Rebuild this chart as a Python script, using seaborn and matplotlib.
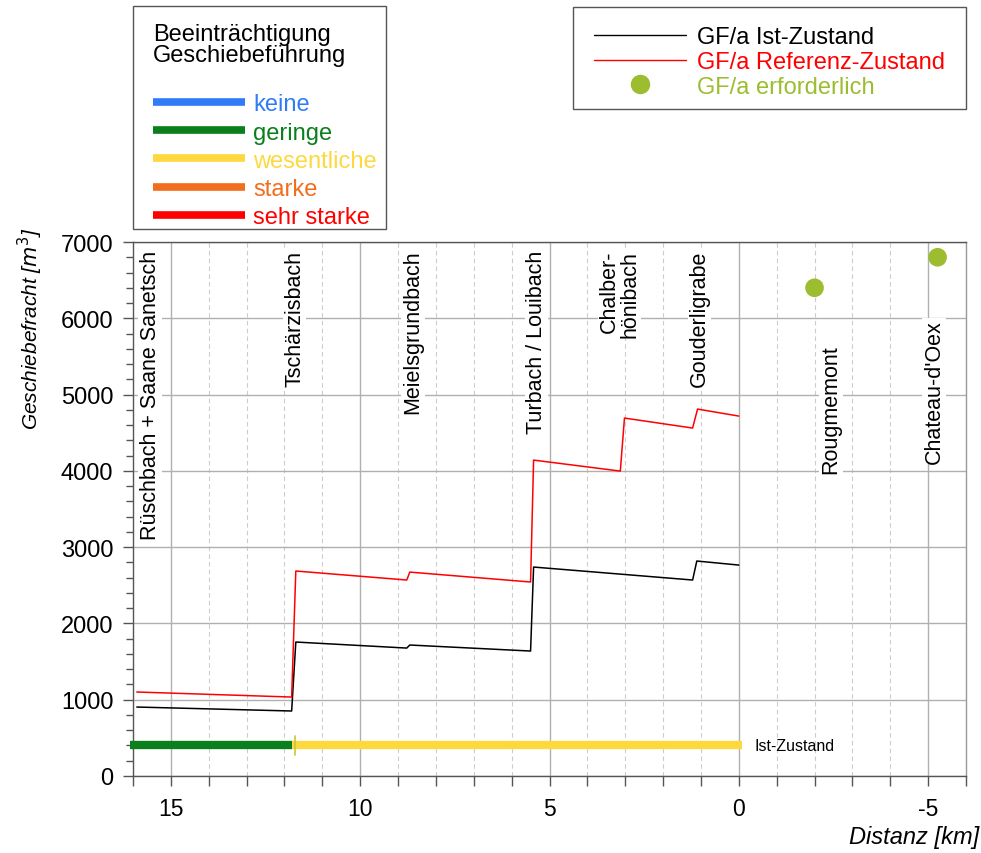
import numpy as np
import pandas as pd
import matplotlib
matplotlib.use("Agg")
import matplotlib.pyplot as plt
from matplotlib.lines import Line2D
from matplotlib.patches import Rectangle
from matplotlib.ticker import MultipleLocator
import seaborn as sns

# Geschiebefracht entlang der Saane
dist_ist = [15.9, 11.81, 11.7, 8.77, 8.69, 5.50, 5.42, 1.22, 1.11, 0.0]
gf_ist = [904, 852, 1756, 1677, 1717, 1638, 2739, 2569, 2818, 2765]

dist_ref = [15.9, 11.81, 11.7, 8.77, 8.69, 5.50, 5.42, 3.13, 3.02, 1.22, 1.09, 0.0]
gf_ref = [1101, 1035, 2687, 2569, 2673, 2543, 4141, 3997, 4692, 4561, 4810, 4718]

dist_erf = [-2.0, -5.25]
gf_erf = [6400, 6800]

# Zufluesse / Orte
orte = ["Rüschbach + Saane Sanetsch", "Tschärzisbach", "Meielsgrundbach",
        "Turbach / Louibach", "Chalber-\nhönibach", "Gouderligrabe",
        "Rougmemont", "Chateau-d'Oex"]
orte_km = [15.55, 11.73, 8.6, 5.34, 3.15, 1.04, -2.44, -5.16]
orte_top = [6900, 6900, 6900, 6900, 6900, 6900, 5660, 5990]

# Beeintraechtigung Ist-Zustand
abschnitt_von = [16.08, 11.81]
abschnitt_bis = [11.81, -0.08]
abschnitt_klasse = ["geringe", "wesentliche"]
balken_y = 400

klassen = ["keine", "geringe", "wesentliche", "starke", "sehr starke"]
klassen_farben = ["#2f7cf6", "#0b7f1b", "#fdd93d", "#f26d1c", "#ff0000"]
farbe_erf = "#9cbd2f"

W, H = 981, 854

sns.set_style("white")
plt.rcParams['font.family'] = ['Liberation Sans', 'DejaVu Sans']
plt.rcParams['text.color'] = 'black'
plt.rcParams['axes.labelcolor'] = 'black'
plt.rcParams['axes.unicode_minus'] = False

fig = plt.figure(figsize=(W/100, H/100), dpi=100)
ax = fig.add_axes([133/W, 1-777/H, (966-133)/W, (777-243)/H])

df_ist = pd.DataFrame({"km": dist_ist, "gf": gf_ist})
df_ref = pd.DataFrame({"km": dist_ref, "gf": gf_ref})
df_erf = pd.DataFrame({"km": dist_erf, "gf": gf_erf})

sns.lineplot(data=df_ist, x="km", y="gf", sort=False, estimator=None,
             color="black", lw=1.1, ax=ax, zorder=4)
sns.lineplot(data=df_ref, x="km", y="gf", sort=False, estimator=None,
             color="#ff0000", lw=1.1, ax=ax, zorder=4)
sns.scatterplot(data=df_erf, x="km", y="gf", color=farbe_erf, s=180,
                edgecolor="none", ax=ax, zorder=5)

farbe_map = dict(zip(klassen, klassen_farben))
for a, b, k in zip(abschnitt_von, abschnitt_bis, abschnitt_klasse):
    ax.plot([a, b], [balken_y, balken_y], color=farbe_map[k], lw=6,
            solid_capstyle="butt", clip_on=False, zorder=3)
ax.plot([11.73] * 2, [balken_y - 130, balken_y + 130],
        color="#c8c83a", lw=1.2, zorder=3)
ax.text(-0.42, balken_y, "Ist-Zustand", fontsize=11.5, va="center", ha="left")

for name, km, top in zip(orte, orte_km, orte_top):
    ax.text(km, top, name, rotation=90, ha="center", va="top", fontsize=15.5,
            multialignment="right", linespacing=0.95, zorder=6,
            bbox=dict(facecolor="white", edgecolor="none", pad=1))

ax.set_xlim(16, -6)
ax.set_ylim(0, 7000)
ax.xaxis.set_major_locator(MultipleLocator(5))
ax.xaxis.set_minor_locator(MultipleLocator(1))
ax.yaxis.set_major_locator(MultipleLocator(1000))
ax.yaxis.set_minor_locator(MultipleLocator(200))
ax.grid(which="major", axis="both", color="#b0b0b0", lw=1, ls="-")
ax.grid(which="minor", axis="x", color="#cccccc", lw=0.8, ls=(0, (4, 3)))
ax.set_axisbelow(True)
ax.tick_params(which="major", direction="out", length=7.2, width=1,
               color="#555555", labelcolor="black", labelsize=17, pad=7)
ax.tick_params(which="minor", direction="out", length=5, width=1,
               color="#555555")
ax.tick_params(axis="x", which="both", length=7.2)
ax.tick_params(axis="x", which="major", pad=8, labelsize=16.5)
ax.tick_params(bottom=True, left=True, which="both")
for s in ax.spines.values():
    s.set_color("#555555")
    s.set_linewidth(1)
ax.spines["right"].set_color("#999999")

ax.set_xlabel("")
ax.set_ylabel("Geschiebefracht [$m^3$]", fontsize=15, style="italic")
ax.yaxis.label.set_va("center")
ax.yaxis.set_label_coords((30-133)/833, 0.84)
fig.text(979/W, 1-838/H, "Distanz [km]", fontsize=17, style="italic",
         ha="right", va="center")

# Legende Beeintraechtigung
fig.add_artist(Rectangle((133/W, 1-230/H), (386-133)/W, (230-7)/H,
                         transform=fig.transFigure, facecolor="white",
                         edgecolor="#555555", lw=1, zorder=1))
h1 = [Line2D([], [], color=c, lw=5.5, solid_capstyle="butt")
      for c in klassen_farben]
leg1 = fig.legend(h1, klassen, title="Beeinträchtigung\nGeschiebeführung\n",
                  loc="upper left", bbox_to_anchor=(153/W, 1-24/H),
                  fontsize=17, title_fontsize=17, frameon=False,
                  handlelength=3.9, handletextpad=0.34, labelspacing=0.26,
                  borderpad=0, borderaxespad=0)
leg1._legend_box.align = "left"
leg1.get_title().set_linespacing(0.95)
for t, c in zip(leg1.get_texts(), klassen_farben):
    t.set_color(c)
leg1.set_zorder(2)

# Legende GF/a
fig.add_artist(Rectangle((573/W, 1-110/H), (966-573)/W, (110-8)/H,
                         transform=fig.transFigure, facecolor="white",
                         edgecolor="#555555", lw=1, zorder=1))
h2 = [Line2D([], [], color="black", lw=1),
      Line2D([], [], color="#ff0000", lw=1),
      Line2D([], [], color=farbe_erf, marker="o", ls="none", markersize=13)]
lab2 = ["GF/a Ist-Zustand", "GF/a Referenz-Zustand", "GF/a erforderlich"]
leg2 = fig.legend(h2, lab2, loc="upper left",
                  bbox_to_anchor=(594/W, 1-27/H),
                  fontsize=17, frameon=False, handlelength=3.9,
                  handletextpad=0.45, labelspacing=0.12, borderpad=0,
                  borderaxespad=0)
for t, c in zip(leg2.get_texts(), ["black", "#ff0000", farbe_erf]):
    t.set_color(c)
leg2.set_zorder(2)

fig.savefig("out.png", dpi=100)
